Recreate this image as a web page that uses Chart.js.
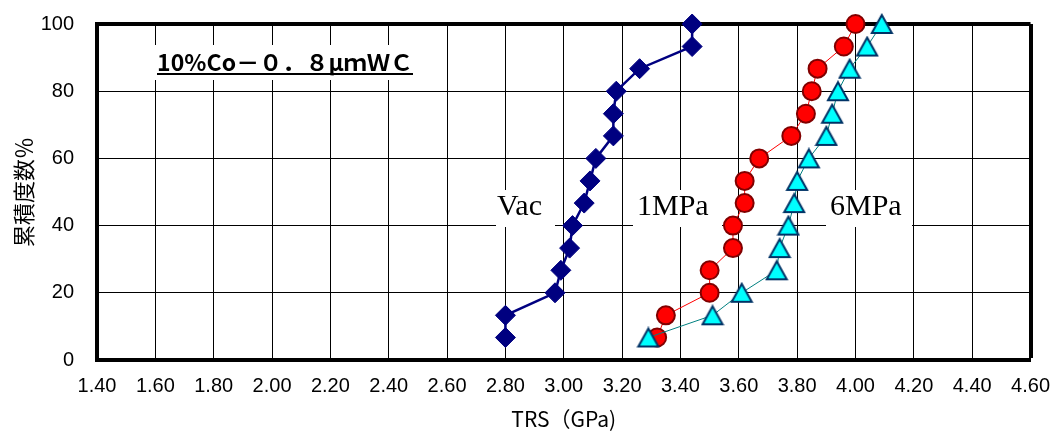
<!DOCTYPE html>
<html>
<head>
<meta charset="UTF-8">
<title>TRS 累積度数</title>
<script src="https://cdn.jsdelivr.net/npm/chart.js@4.4.0/dist/chart.umd.min.js"></script>
<style>
  html, body { margin: 0; padding: 0; background: #fff; }
  #wrap { width: 1050px; height: 432px; }
</style>
</head>
<body>
<div id="wrap"><canvas id="myChart"></canvas></div>
<script>
// cumulative frequency (%) shared by the three series
const cumPct = [6.7, 13.3, 20, 26.7, 33.3, 40, 46.7, 53.3, 60, 66.7, 73.3, 80, 86.7, 93.3, 100];
// TRS (GPa), sorted
const trsVac  = [2.80, 2.80, 2.97, 2.99, 3.02, 3.03, 3.07, 3.09, 3.11, 3.17, 3.17, 3.18, 3.26, 3.44, 3.44];
const trs1MPa = [3.32, 3.35, 3.50, 3.50, 3.58, 3.58, 3.62, 3.62, 3.67, 3.78, 3.83, 3.85, 3.87, 3.96, 4.00];
const trs6MPa = [3.29, 3.51, 3.61, 3.73, 3.74, 3.77, 3.79, 3.80, 3.84, 3.90, 3.92, 3.94, 3.98, 4.04, 4.09];

const xMin = 1.4, xMax = 4.6, xStep = 0.2;
const yMin = 0, yMax = 100, yStep = 20;

const titleText = '10%Co－０．８μｍＷＣ';
const seriesLabels = ['Vac', '1MPa', '6MPa'];

function pts(xs, ys) {
  return xs.map((x, i) => ({ x: x, y: ys[i] }));
}

// Excel-style triangle marker, centred on its bounding box
function triMarker() {
  const cv = document.createElement('canvas');
  cv.width = 24; cv.height = 22;
  const g = cv.getContext('2d');
  g.beginPath();
  g.moveTo(12, 2);
  g.lineTo(22, 20);
  g.lineTo(2, 20);
  g.closePath();
  g.fillStyle = '#00ffff';
  g.fill();
  g.lineWidth = 2;
  g.lineJoin = 'miter';
  g.strokeStyle = '#003366';
  g.stroke();
  return cv;
}

const tickFont = { family: "'Liberation Sans Narrow', 'Liberation Sans', Arial, sans-serif", size: 20 };

// text boxes drawn on the plot (Vac / 1MPa / 6MPa and the sample title)
const notes = {
  id: 'notes',
  beforeDatasetsDraw(chart) {
    const c = chart.ctx;
    c.save();
    // series labels
    const boxes = [[496, 59], [633, 89], [826, 86]];
    const textX = [497, 637, 830];
    c.fillStyle = '#fff';
    boxes.forEach(b => c.fillRect(b[0], 190, b[1], 37));
    c.fillStyle = '#000';
    c.font = "30px 'Liberation Serif', 'Times New Roman', serif";
    c.textBaseline = 'alphabetic';
    c.textAlign = 'left';
    seriesLabels.forEach((t, i) => c.fillText(t, textX[i], 215));

    // title with underline
    c.fillStyle = '#fff';
    c.fillRect(150, 45, 270, 35);
    c.fillStyle = '#000';
    c.font = "bold 23px 'Noto Sans CJK JP', sans-serif";
    const want = 256;
    const w = c.measureText(titleText).width;
    const n = [...titleText].length;
    c.letterSpacing = ((want - w) / (n - 1)).toFixed(2) + 'px';
    c.fillText(titleText, 157, 71);
    c.fillRect(157, 73, want, 2);
    c.restore();
  }
};

const ctx = document.getElementById('myChart').getContext('2d');
const chart = new Chart(ctx, {
  type: 'scatter',
  data: {
    datasets: [
      { label: 'Vac', data: pts(trsVac, cumPct), showLine: true, order: 2, clip: false,
        borderColor: '#000080', borderWidth: 2.5,
        pointStyle: 'rectRot', pointRadius: 10, pointHoverRadius: 10,
        pointBackgroundColor: '#000080', pointBorderColor: '#000080', pointBorderWidth: 1 },
      { label: '1MPa', data: pts(trs1MPa, cumPct), showLine: true, order: 1, clip: false,
        borderColor: '#ff0000', borderWidth: 1,
        pointStyle: 'circle', pointRadius: 9, pointHoverRadius: 9,
        pointBackgroundColor: '#ff0000', pointBorderColor: '#800000', pointBorderWidth: 2 },
      { label: '6MPa', data: pts(trs6MPa, cumPct), showLine: true, order: 0, clip: false,
        borderColor: '#008080', borderWidth: 1,
        pointStyle: triMarker(), pointRadius: 11, pointHoverRadius: 11 }
    ]
  },
  options: {
    responsive: true,
    maintainAspectRatio: false,
    animation: false,
    layout: { padding: { left: 0, top: 24, right: 19, bottom: 0 } },
    plugins: { legend: { display: false }, tooltip: { enabled: false } },
    scales: {
      x: {
        type: 'linear', min: xMin, max: xMax,
        afterFit: s => { s.height = 72; },
        ticks: { stepSize: xStep, padding: 0, color: '#000', font: tickFont,
                 callback: v => Number(v).toFixed(2) },
        grid: { color: '#000', drawTicks: true, tickLength: 14, tickColor: 'rgba(0,0,0,0)',
                lineWidth: c => (c.tick && Math.abs(c.tick.value - xMax) < 1e-6 ? 4 : 1) },
        border: { display: true, color: '#000', width: 4 },
        title: { display: true, text: 'TRS（GPa)', color: '#000',
                 font: { family: "'Noto Sans CJK JP', sans-serif", size: 21 },
                 padding: { top: 0, bottom: 0 } }
      },
      y: {
        min: yMin, max: yMax,
        afterFit: s => { s.width = 97; },
        ticks: { stepSize: yStep, padding: 0, color: '#000', font: tickFont },
        grid: { color: '#000', drawTicks: true, tickLength: 23, tickColor: 'rgba(0,0,0,0)',
                lineWidth: c => (c.tick && c.tick.value === yMax ? 4 : 1) },
        border: { display: true, color: '#000', width: 4 },
        title: { display: true, text: '累積度数％', color: '#000',
                 font: { family: "'Noto Sans CJK JP', sans-serif", size: 22 },
                 padding: { top: 10, bottom: 0 } }
      }
    }
  },
  plugins: [notes]
});
</script>
</body>
</html>
